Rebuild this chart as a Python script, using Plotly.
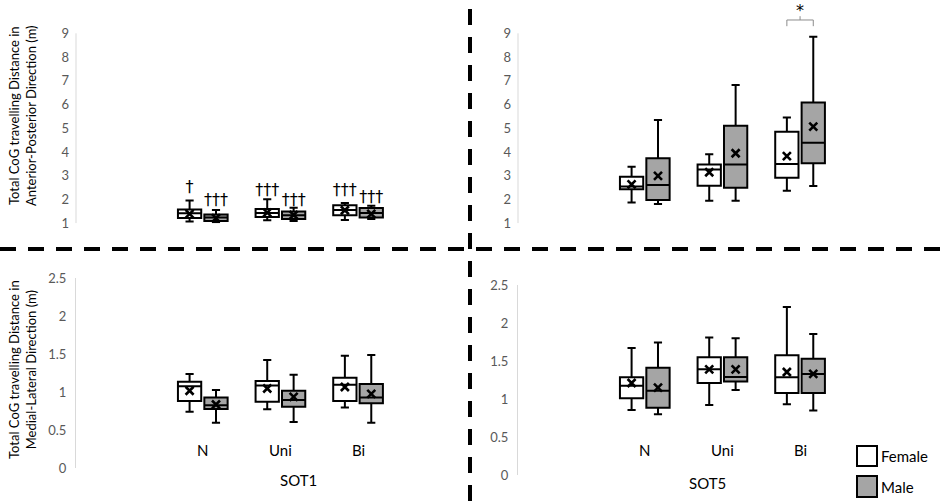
import plotly.graph_objects as go

# ---------------- data ----------------
categories = ["N", "Uni", "Bi"]
cat_pos = [1, 2, 3]
groups = ["Female", "Male"]

# Anterior-Posterior, SOT1
ap1_f_low = [1.08, 1.13, 1.14]
ap1_f_q1 = [1.22, 1.27, 1.34]
ap1_f_med = [1.42, 1.43, 1.56]
ap1_f_q3 = [1.58, 1.60, 1.76]
ap1_f_high = [1.96, 2.01, 1.85]
ap1_f_mean = [1.40, 1.45, 1.55]
ap1_m_low = [1.04, 1.10, 1.18]
ap1_m_q1 = [1.10, 1.18, 1.24]
ap1_m_med = [1.24, 1.34, 1.43]
ap1_m_q3 = [1.37, 1.50, 1.64]
ap1_m_high = [1.56, 1.66, 1.74]
ap1_m_mean = [1.22, 1.35, 1.40]

# Anterior-Posterior, SOT5
ap5_f_low = [1.88, 1.95, 2.37]
ap5_f_q1 = [2.43, 2.58, 2.92]
ap5_f_med = [2.55, 3.27, 3.50]
ap5_f_q3 = [2.96, 3.48, 4.86]
ap5_f_high = [3.38, 3.91, 5.45]
ap5_f_mean = [2.64, 3.15, 3.83]
ap5_m_low = [1.81, 1.95, 2.57]
ap5_m_q1 = [1.98, 2.50, 3.53]
ap5_m_med = [2.61, 3.48, 4.39]
ap5_m_q3 = [3.74, 5.11, 6.09]
ap5_m_high = [5.35, 6.82, 8.86]
ap5_m_mean = [3.00, 3.95, 5.07]

# Medial-Lateral, SOT1
ml1_f_low = [0.745, 0.776, 0.80]
ml1_f_q1 = [0.885, 0.876, 0.885]
ml1_f_med = [1.08, 1.09, 1.10]
ml1_f_q3 = [1.14, 1.15, 1.19]
ml1_f_high = [1.24, 1.425, 1.48]
ml1_f_mean = [1.02, 1.05, 1.07]
ml1_m_low = [0.60, 0.61, 0.60]
ml1_m_q1 = [0.78, 0.81, 0.855]
ml1_m_med = [0.83, 0.90, 0.93]
ml1_m_q3 = [0.93, 1.02, 1.11]
ml1_m_high = [1.03, 1.23, 1.49]
ml1_m_mean = [0.84, 0.94, 0.98]

# Medial-Lateral, SOT5
ml5_f_low = [0.855, 0.92, 0.93]
ml5_f_q1 = [1.01, 1.21, 1.08]
ml5_f_med = [1.175, 1.39, 1.285]
ml5_f_q3 = [1.285, 1.55, 1.575]
ml5_f_high = [1.67, 1.81, 2.21]
ml5_f_mean = [1.21, 1.39, 1.355]
ml5_m_low = [0.80, 1.12, 0.85]
ml5_m_q1 = [0.886, 1.23, 1.08]
ml5_m_med = [1.11, 1.29, 1.33]
ml5_m_q3 = [1.41, 1.55, 1.53]
ml5_m_high = [1.745, 1.80, 1.855]
ml5_m_mean = [1.15, 1.39, 1.33]

# significance marks (SOT1 vs SOT5) for AP SOT1
dagger_f_text = ["†", "†††", "†††"]
dagger_f_y = [2.47, 2.35, 2.35]
dagger_m_text = ["†††", "†††", "†††"]
dagger_m_y = [1.93, 1.93, 2.05]

# female vs male significance (AP SOT5, Bi)
sig_cat = 2
sig_bracket_low = 9.3
sig_bracket_high = 9.56
sig_bracket_tip = 9.72
sig_star_y = 9.90

ap_ticks = [1, 2, 3, 4, 5, 6, 7, 8, 9]
ml_ticks = [0, 0.5, 1, 1.5, 2, 2.5]
ml_ticktext = ["0", "0.5", "1", "1.5", "2", "2.5"]

# ---------------- styling ----------------
W, H = 941, 501
FONT = "Lato"
OFF = 0.17
BOXW = 0.30
FEMALE_FILL = "white"
MALE_FILL = "#a5a5a5"
TICK_COLOR = "#595959"
AXIS_COLOR = "#d9d9d9"
AP_MIN, AP_MAX, AP_TOP = 1, 9, 10.35
AP_PX_PER_UNIT = 23.75
AP_BOTTOM_PX = 223.3

def px_x(p):
    return p / W

def px_y(p):
    return 1 - p / H

fig = go.Figure()

panels = [
    ("x", "y", (ap1_f_low, ap1_f_q1, ap1_f_med, ap1_f_q3, ap1_f_high, ap1_f_mean),
     (ap1_m_low, ap1_m_q1, ap1_m_med, ap1_m_q3, ap1_m_high, ap1_m_mean)),
    ("x2", "y2", (ap5_f_low, ap5_f_q1, ap5_f_med, ap5_f_q3, ap5_f_high, ap5_f_mean),
     (ap5_m_low, ap5_m_q1, ap5_m_med, ap5_m_q3, ap5_m_high, ap5_m_mean)),
    ("x3", "y3", (ml1_f_low, ml1_f_q1, ml1_f_med, ml1_f_q3, ml1_f_high, ml1_f_mean),
     (ml1_m_low, ml1_m_q1, ml1_m_med, ml1_m_q3, ml1_m_high, ml1_m_mean)),
    ("x4", "y4", (ml5_f_low, ml5_f_q1, ml5_f_med, ml5_f_q3, ml5_f_high, ml5_f_mean),
     (ml5_m_low, ml5_m_q1, ml5_m_med, ml5_m_q3, ml5_m_high, ml5_m_mean)),
]

xf = [p - OFF for p in cat_pos]
xm = [p + OFF for p in cat_pos]

for xa, ya, fdat, mdat in panels:
    for name, xs, dat, fill in (("Female", xf, fdat, FEMALE_FILL), ("Male", xm, mdat, MALE_FILL)):
        low, q1, med, q3, high, mean = dat
        fig.add_trace(go.Box(
            x=xs, lowerfence=low, q1=q1, median=med, q3=q3, upperfence=high,
            name=name, boxpoints=False, width=BOXW, whiskerwidth=0.35,
            fillcolor=fill, line=dict(color="black", width=2),
            xaxis=xa, yaxis=ya, showlegend=False, hoverinfo="skip",
        ))
        fig.add_trace(go.Scatter(
            x=xs, y=mean, mode="markers",
            marker=dict(symbol="x-thin", size=8, line=dict(color="black", width=2.6)),
            xaxis=xa, yaxis=ya, showlegend=False, hoverinfo="skip",
        ))

# daggers above SOT1 AP boxes
fig.add_trace(go.Scatter(
    x=xf + xm, y=dagger_f_y + dagger_m_y, mode="text",
    text=dagger_f_text + dagger_m_text, textposition="middle center",
    textfont=dict(size=16, color="black", family="DejaVu Sans"),
    xaxis="x", yaxis="y", showlegend=False, hoverinfo="skip", cliponaxis=False,
))

# bracket + asterisk
bx0, bx1, bc = xf[sig_cat], xm[sig_cat], cat_pos[sig_cat]
fig.add_trace(go.Scatter(
    x=[bx0, bx0, bx1, bx1, None, bc, bc],
    y=[sig_bracket_low, sig_bracket_high, sig_bracket_high, sig_bracket_low, None,
       sig_bracket_high, sig_bracket_tip],
    mode="lines", line=dict(color="#8c8c8c", width=1),
    xaxis="x2", yaxis="y2", showlegend=False, hoverinfo="skip", cliponaxis=False,
))
fig.add_trace(go.Scatter(
    x=[bc], y=[sig_star_y], mode="text", text=["*"], textposition="middle center",
    textfont=dict(size=16, color="black", family="DejaVu Sans"),
    xaxis="x2", yaxis="y2", showlegend=False, hoverinfo="skip", cliponaxis=False,
))

# ---------------- axes ----------------
xrange = [-0.633, 4.3]
left_dom = [px_x(76), px_x(459)]
right_dom = [px_x(518), px_x(901)]
top_dom = [px_y(AP_BOTTOM_PX), px_y(AP_BOTTOM_PX - (AP_TOP - AP_MIN) * AP_PX_PER_UNIT)]
bl_dom = [px_y(468.3), px_y(278.3)]
br_dom = [px_y(475), px_y(285)]

xcommon = dict(range=xrange, showline=False, showgrid=False, zeroline=False,
               showticklabels=False, ticks="", automargin=False)
ycommon = dict(showgrid=False, zeroline=False, ticks="", automargin=False,
               tickfont=dict(family=FONT, size=13, color=TICK_COLOR),
               ticklabelstandoff=6)

fig.update_layout(
    xaxis=dict(domain=left_dom, anchor="y", **xcommon),
    xaxis2=dict(domain=right_dom, anchor="y2", **xcommon),
    xaxis3=dict(domain=left_dom, anchor="y3", **xcommon),
    xaxis4=dict(domain=right_dom, anchor="y4", **xcommon),
    yaxis=dict(domain=top_dom, anchor="x", range=[AP_MIN, AP_TOP], tickvals=ap_ticks,
               showline=False, **ycommon),
    yaxis2=dict(domain=top_dom, anchor="x2", range=[AP_MIN, AP_TOP], tickvals=ap_ticks,
                showline=False, **ycommon),
    yaxis3=dict(domain=bl_dom, anchor="x3", range=[0, 2.5], tickvals=ml_ticks,
                ticktext=ml_ticktext, showline=True, linecolor=AXIS_COLOR, linewidth=1, **ycommon),
    yaxis4=dict(domain=br_dom, anchor="x4", range=[0, 2.5], tickvals=ml_ticks,
                ticktext=ml_ticktext, showline=True, linecolor=AXIS_COLOR, linewidth=1, **ycommon),
    width=W, height=H, margin=dict(l=0, r=0, t=0, b=0, pad=0, autoexpand=False),
    paper_bgcolor="white", plot_bgcolor="white",
    font=dict(family=FONT, color="black"),
    showlegend=False,
)

# AP axis lines only over the 1-9 value span
for ya, dom in (("y", left_dom), ("y2", right_dom)):
    fig.add_shape(type="line", xref="paper", yref=ya, x0=dom[0], x1=dom[0],
                  y0=AP_MIN, y1=AP_MAX, line=dict(color=AXIS_COLOR, width=1))

ann = []
# category labels on bottom panels
for xa in ("x3", "x4"):
    for i, c in enumerate(categories):
        ann.append(dict(x=cat_pos[i], y=px_y(450), xref=xa, yref="paper", text=c,
                        showarrow=False, font=dict(size=15, color="black"), yanchor="middle"))

ann.append(dict(x=px_x(278), y=px_y(480), xref="paper", yref="paper", text="SOT1",
                showarrow=False, font=dict(size=15, color="black"), yanchor="middle"))
ann.append(dict(x=px_x(728), y=px_y(483), xref="paper", yref="paper", text="SOT5",
                showarrow=False, font=dict(size=15, color="black"), yanchor="middle"))

# y axis titles
ann.append(dict(x=px_x(22), y=px_y(116), xref="paper", yref="paper",
                text="Total CoG travelling Distance in<br>Anterior-Posterior Direction (m)",
                textangle=-90, showarrow=False, font=dict(size=13, color="black"),
                xanchor="center", yanchor="middle"))
ann.append(dict(x=px_x(22), y=px_y(370), xref="paper", yref="paper",
                text="Total CoG travelling Distance in<br>Medial-Lateral Direction (m)",
                textangle=-90, showarrow=False, font=dict(size=13, color="black"),
                xanchor="center", yanchor="middle"))

# legend
leg = [("Female", FEMALE_FILL, 446, 466), ("Male", MALE_FILL, 476, 497)]
for name, fill, y0, y1 in leg:
    fig.add_shape(type="rect", xref="paper", yref="paper",
                  x0=px_x(857), x1=px_x(877), y0=px_y(y1), y1=px_y(y0),
                  fillcolor=fill, line=dict(color="black", width=2))
    ann.append(dict(x=px_x(879), y=px_y((y0 + y1) / 2), xref="paper", yref="paper",
                    text=name, showarrow=False, xanchor="left", yanchor="middle",
                    font=dict(size=15, color="black")))

# quadrant dividers
fig.add_shape(type="line", xref="paper", yref="paper", x0=0, x1=1, y0=px_y(249), y1=px_y(249),
              line=dict(color="black", width=4, dash="16px,12px"))
fig.add_shape(type="line", xref="paper", yref="paper", x0=px_x(470), x1=px_x(470), y0=0, y1=1,
              line=dict(color="black", width=4, dash="16px,12px"))

fig.update_layout(annotations=ann)
fig.write_html("out.html", config={"displayModeBar": False},
               post_script="document.body.style.margin='0px';document.body.style.overflow='hidden';")
